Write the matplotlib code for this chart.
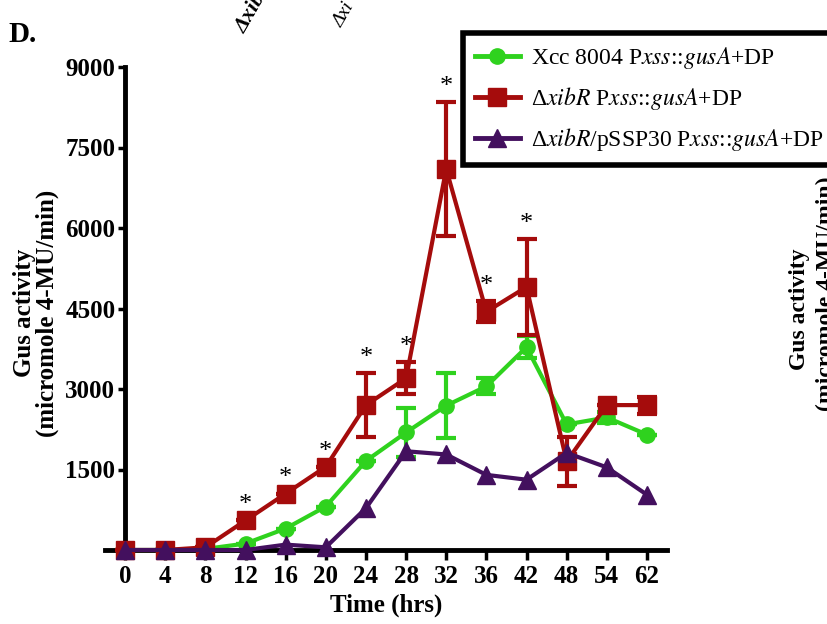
import matplotlib
matplotlib.use('Agg')
import matplotlib.pyplot as plt
from matplotlib.lines import Line2D

plt.rcParams['font.family'] = ['Liberation Serif', 'DejaVu Serif']
plt.rcParams['mathtext.fontset'] = 'stix'

# data
hours = ['0', '4', '8', '12', '16', '20', '24', '28', '32', '36', '42', '48', '54', '62']
wt = [0, 0, 20, 120, 400, 810, 1660, 2190, 2690, 3050, 3780, 2340, 2470, 2150]
wt_err = [0, 0, 0, 0, 0, 0, 0, 450, 600, 150, 200, 0, 100, 0]
mut = [0, 0, 50, 550, 1050, 1550, 2700, 3200, 7100, 4440, 4900, 1650, 2700, 2700]
mut_err = [0, 0, 0, 0, 0, 0, 600, 300, 1250, 200, 900, 450, 0, 160]
comp = [0, 0, 0, 0, 100, 50, 780, 1840, 1780, 1400, 1310, 1810, 1540, 1030]
star_idx = [3, 4, 5, 6, 7, 8, 9, 10]
y_ticks = [1500, 3000, 4500, 6000, 7500, 9000]

green = '#2fd21e'
red = '#a50c0c'
purple = '#43105e'

fig = plt.figure(figsize=(8.27, 6.24), dpi=100)
ax = fig.add_axes([105 / 827, 74 / 624, 562 / 827, 483 / 624])

x = list(range(len(hours)))

ax.errorbar(x, wt, yerr=wt_err, color=green, lw=3, marker='o', ms=11,
            capsize=7, capthick=3, elinewidth=3, clip_on=False, zorder=3)
ax.errorbar(x, mut, yerr=mut_err, color=red, lw=3, marker='s', ms=13,
            capsize=7, capthick=3, elinewidth=3, clip_on=False, zorder=4)
ax.plot(x, comp, color=purple, lw=3, marker='^', ms=13, clip_on=False, zorder=5)

# significance marks
for i in star_idx:
    ax.annotate('*', (x[i], mut[i] + mut_err[i]), xytext=(0, 3), textcoords='offset points',
                ha='center', va='bottom', fontsize=19)

ax.set_xlim(-0.5, 13.5)
ax.set_ylim(0, 9000)
ax.set_xticks(x)
ax.set_xticklabels(hours)
ax.set_yticks(y_ticks)

ax.spines['left'].set_position(('data', 0))
ax.spines['top'].set_visible(False)
ax.spines['right'].set_visible(False)
for s in ['left', 'bottom']:
    ax.spines[s].set_linewidth(3.5)
ax.tick_params(axis='y', width=2.5, length=5, labelsize=18, pad=2)
ax.tick_params(axis='x', width=2.5, length=7, labelsize=18, pad=4)
for lab in ax.get_xticklabels() + ax.get_yticklabels():
    lab.set_fontweight('bold')

ax.set_xlabel('Time (hrs)', fontsize=18, fontweight='bold', labelpad=4)
fig.text(36 / 827, 1 - 313 / 624, 'Gus activity\n(micromole 4-MU/min)', rotation=90, ha='center',
         va='center', fontsize=18, fontweight='bold', linespacing=1.0)

fig.text(8 / 827, 1 - 42 / 624, 'D.', fontsize=21, fontweight='bold')

handles = [
    Line2D([], [], color=green, lw=3.5, marker='o', ms=11),
    Line2D([], [], color=red, lw=3.5, marker='s', ms=13),
    Line2D([], [], color=purple, lw=3.5, marker='^', ms=13),
]
labels = [
    r'Xcc 8004 P$\mathit{xss}$::$\mathit{gusA}$+DP',
    r'Δ$\mathit{xibR}$ P$\mathit{xss}$::$\mathit{gusA}$+DP',
    r'Δ$\mathit{xibR}$/pSSP30 P$\mathit{xss}$::$\mathit{gusA}$+DP',
]
leg = fig.legend(handles, labels, loc='upper left', bbox_to_anchor=(463 / 827, 1 - 33 / 624),
                 fontsize=17, frameon=True, fancybox=False, framealpha=1, handlelength=1.9,
                 borderaxespad=0, borderpad=0.5, labelspacing=0.6, handletextpad=0.5)
leg.get_frame().set_edgecolor('black')
leg.get_frame().set_linewidth(4)

# fragments of neighbouring panels
fig.text(800 / 827, 315 / 624, 'Gus activity', rotation=90, ha='center', va='center',
         fontsize=17, fontweight='bold')
fig.text(826 / 827, 330 / 624, '(micromole 4-MU/min)', rotation=90, ha='center', va='center',
         fontsize=17, fontweight='bold')
fig.text(232 / 827, 1 - 32 / 624, 'ΔxibR', rotation=60, fontsize=16, fontweight='bold',
         style='italic')
fig.text(330 / 827, 1 - 26 / 624, 'Δxi', rotation=60, fontsize=14, style='italic')

fig.savefig('out.png', dpi=100)
